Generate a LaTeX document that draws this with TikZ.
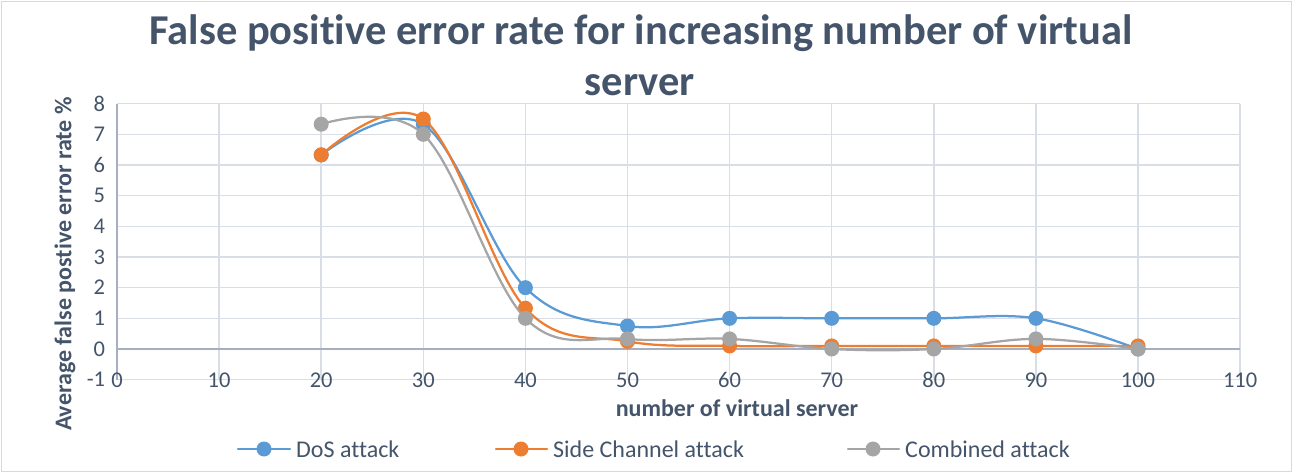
\documentclass[tikz,border=0pt]{standalone}
\usepackage{fontspec}
\setmainfont{Carlito}[Ligatures={NoCommon,NoContextual}]
\definecolor{txt}{RGB}{68,84,106}
\definecolor{gridc}{RGB}{217,222,230}
\definecolor{axisc}{RGB}{166,175,192}
\definecolor{sblue}{RGB}{91,155,213}
\definecolor{sorange}{RGB}{237,125,49}
\definecolor{sgray}{RGB}{165,165,165}
\definecolor{framec}{RGB}{217,217,217}
\begin{document}
\begin{tikzpicture}[x=1pt,y=-1pt,
  titletext/.style={text=txt,font=\fontsize{42.5}{50}\selectfont\bfseries,inner sep=0pt},
  axtitle/.style={text=txt,font=\fontsize{24}{29}\selectfont\bfseries,inner sep=0pt},
  ticklab/.style={text=txt,font=\fontsize{22.5}{27}\selectfont,inner sep=0pt},
  legtext/.style={text=txt,font=\fontsize{24}{29}\selectfont,inner sep=0pt,anchor=west},
  gridline/.style={draw=gridc,line width=1.5pt},
  axisline/.style={draw=axisc,line width=1.5pt},
  series/.style={line width=2.25pt,line cap=round,line join=round},
]
\useasboundingbox (0,0) rectangle (1293,473);
\draw[framec,line width=1pt] (1.5,1.5) rectangle (1291.5,471.5);
\node[titletext] (t1) at (641,33) {False positive error rate for increasing number of virtual};
\node[titletext] (t2) at (640,85) {server};
\node[axtitle] (xt) at (737,408) {number of virtual server};
\node[axtitle,rotate=90] (yt) at (65,264) {Average false postive error rate \%};
\coordinate (O) at (117,349);
\begin{scope}[shift={(O)},x=10.21pt,y=30.667pt]
  \foreach \v in {-1,...,8} \draw[gridline] (0,\v) -- (110,\v);
  \foreach \u in {10,20,...,110} \draw[gridline] (\u,-1) -- (\u,8);
  \draw[axisline] (0,-1) -- (0,8);
  \draw[axisline] (0,0) -- (110,0);
  \foreach \v in {-1,...,8} \node[ticklab,anchor=east] (yl\v) at (-1.15,\v) {\v};
  \foreach \u in {0,10,...,110} \node[ticklab] (xl\u) at (\u,-1.02) {\u};
  % DoS
  \draw[series,sblue] plot[smooth,tension=0.6] coordinates {(20,6.33) (30,7.33) (40,2) (50,0.75) (60,1) (70,1) (80,1) (90,1) (100,0)};
  \foreach \p in {(20,6.33),(30,7.33),(40,2),(50,0.75),(60,1),(70,1),(80,1),(90,1),(100,0)}
    \fill[sblue] \p circle[radius=7.5pt];
  % Side channel
  \draw[series,sorange] plot[smooth,tension=0.6] coordinates {(20,6.33) (30,7.5) (40,1.33) (50,0.25) (60,0.1) (70,0.1) (80,0.1) (90,0.1) (100,0.1)};
  \foreach \p in {(20,6.33),(30,7.5),(40,1.33),(50,0.25),(60,0.1),(70,0.1),(80,0.1),(90,0.1),(100,0.1)}
    \fill[sorange] \p circle[radius=7.5pt];
  % Combined
  \draw[series,sgray] plot[smooth,tension=0.6] coordinates {(20,7.33) (30,7) (40,1) (50,0.33) (60,0.33) (70,0) (80,0) (90,0.33) (100,0)};
  \foreach \p in {(20,7.33),(30,7),(40,1),(50,0.33),(60,0.33),(70,0),(80,0),(90,0.33),(100,0)}
    \fill[sgray] \p circle[radius=7.5pt];
\end{scope}
% legend
\coordinate (l1a) at (238,449); \coordinate (l1b) at (290,449); \coordinate (l1c) at (264,449);
\coordinate (l2a) at (496,449); \coordinate (l2b) at (547,449); \coordinate (l2c) at (521,449);
\coordinate (l3a) at (848,449); \coordinate (l3b) at (899,449); \coordinate (l3c) at (873,449);
\draw[series,sblue] (l1a) -- (l1b); \fill[sblue] (l1c) circle[radius=7.5pt];
\draw[series,sorange] (l2a) -- (l2b); \fill[sorange] (l2c) circle[radius=7.5pt];
\draw[series,sgray] (l3a) -- (l3b); \fill[sgray] (l3c) circle[radius=7.5pt];
\node[legtext] (lg1) at (296,449) {DoS attack};
\node[legtext] (lg2) at (553,449) {Side Channel attack};
\node[legtext] (lg3) at (905,449) {Combined attack};
\end{tikzpicture}
\end{document}
